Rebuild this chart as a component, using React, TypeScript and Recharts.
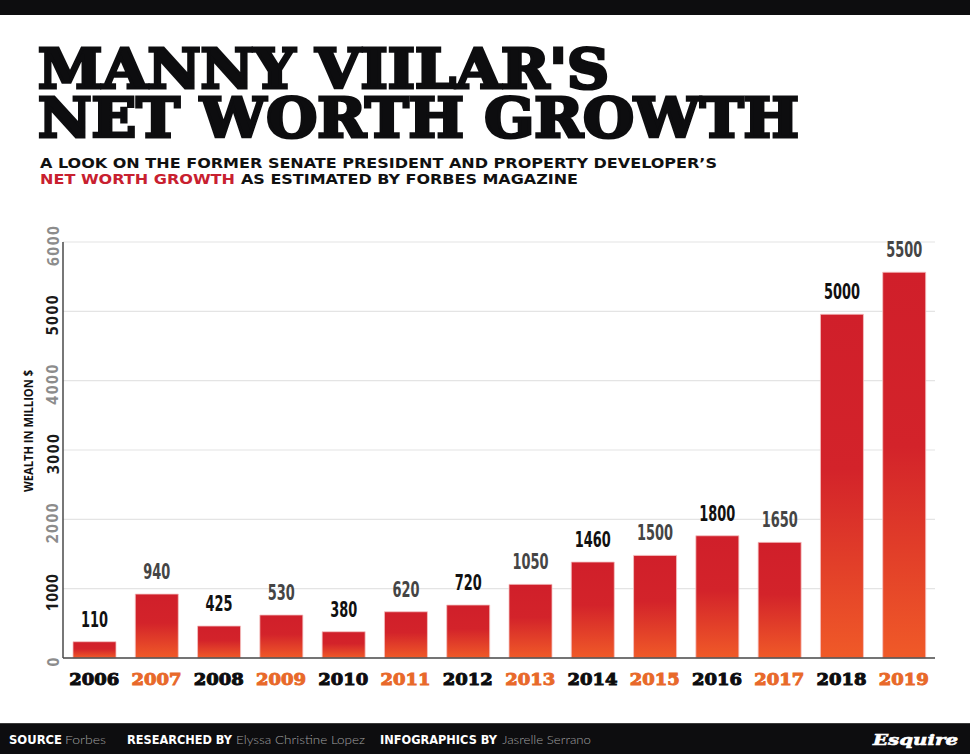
import React from 'react';
import { BarChart, Bar, XAxis, YAxis, CartesianGrid, LabelList } from 'recharts';

const years = ['2006', '2007', '2008', '2009', '2010', '2011', '2012', '2013', '2014', '2015', '2016', '2017', '2018', '2019'];
// bar heights as drawn (million $)
const worth = [235, 922, 461, 620, 379, 667, 764, 1062, 1384, 1480, 1763, 1668, 4958, 5564];
// figures printed above the bars
const printed = ['110', '940', '425', '530', '380', '620', '720', '1050', '1460', '1500', '1800', '1650', '5000', '5500'];
const yTicks = [0, 1000, 2000, 3000, 4000, 5000, 6000];

const data = years.map((year, i) => ({ year, worth: worth[i], printed: printed[i] }));

const INK = '#0d0d0f';
const ORANGE = '#e8692a';
const SLAB = '"DejaVu Serif", serif';
const NARROW = '"DejaVu Sans Condensed", "DejaVu Sans", sans-serif';
const GEO = '"Open Sans", sans-serif';

function YTick(props: any) {
  const { y, payload } = props;
  const v = payload.value;
  const dark = (v / 1000) % 2 === 1;
  const cy = y + 4;
  return (
    <text
      x={52.5} y={cy}
      transform={`rotate(-90 52.5 ${cy})`}
      textAnchor="middle" dominantBaseline="central"
      fontFamily={GEO} fontWeight={700} fontSize={15.5}
      textLength={v === 0 ? undefined : v === 1000 ? 37 : 40} lengthAdjust="spacing"
      fill={dark ? '#1a1a1a' : '#8c8c8c'}
    >
      {v}
    </text>
  );
}

function XTick(props: any) {
  const { x, payload } = props;
  const i = years.indexOf(payload.value);
  const c = i % 2 ? ORANGE : INK;
  return (
    <text
      x={x} y={685} textAnchor="middle"
      fontFamily={SLAB} fontWeight={700} fontSize={17}
      stroke={c} strokeWidth={1} fill={c}
      textLength={50} lengthAdjust="spacingAndGlyphs"
    >
      {payload.value}
    </text>
  );
}

function ValueLabel(props: any) {
  const { x, y, width, value } = props;
  const s = String(value);
  const i = printed.indexOf(s);
  return (
    <text
      x={x + width / 2} y={y - 15} textAnchor="middle"
      fontFamily={NARROW} fontWeight={700} fontSize={21}
      textLength={s.length * 9} lengthAdjust="spacingAndGlyphs"
      fill={i % 2 ? '#454545' : '#111111'}
    >
      {s}
    </text>
  );
}

export default function App() {
  return (
    <div style={{ position: 'absolute', left: 0, top: 0, width: 970, height: 754, background: '#fff', overflow: 'hidden' }}>
      <div style={{ position: 'absolute', left: 0, top: 0, width: 970, height: 15, background: INK }} />

      <div style={{ position: 'absolute', left: 0, top: 0 }}>
        <BarChart width={970} height={754} data={data} margin={{ top: 242, right: 35, bottom: 66, left: 0 }}>
          <defs>
            <linearGradient id="barFill" x1="0" y1="0" x2="0" y2="1">
              <stop offset="0%" stopColor="#d01f2a" />
              <stop offset="45%" stopColor="#d3232a" />
              <stop offset="100%" stopColor="#f05a28" />
            </linearGradient>
          </defs>
          <CartesianGrid vertical={false} stroke="#e4e4e4" strokeWidth={1.2} />
          <XAxis
            dataKey="year" height={30} interval={0}
            axisLine={{ stroke: '#4a4a4a', strokeWidth: 1.5 }} tickLine={false}
            tick={<XTick />}
          />
          <YAxis
            width={63} domain={[0, 6000]} ticks={yTicks} interval={0}
            axisLine={{ stroke: '#4a4a4a', strokeWidth: 1.5 }} tickLine={false}
            tick={<YTick />}
          />
          <Bar dataKey="worth" fill="url(#barFill)" stroke="#f4c3c3" strokeWidth={0.8} barSize={43} isAnimationActive={false}>
            <LabelList dataKey="printed" content={<ValueLabel />} />
          </Bar>
        </BarChart>
      </div>

      <svg width={970} height={754} style={{ position: 'absolute', left: 0, top: 0, pointerEvents: 'none' }}>
        <text x={38} y={88} fontFamily={SLAB} fontWeight={700} fontSize={55} fill={INK} stroke={INK} strokeWidth={3.2}
          textLength={571} lengthAdjust="spacingAndGlyphs">MANNY VIILAR'S</text>
        <text x={38} y={137} fontFamily={SLAB} fontWeight={700} fontSize={55} fill={INK} stroke={INK} strokeWidth={3.2}
          textLength={761} lengthAdjust="spacingAndGlyphs">NET WORTH GROWTH</text>

        <text x={40} y={168} fontFamily={NARROW} fontWeight={700} fontSize={14.5} fill="#111"
          textLength={677} lengthAdjust="spacingAndGlyphs">A LOOK ON THE FORMER SENATE PRESIDENT AND PROPERTY DEVELOPER’S</text>
        <text x={40} y={184} fontFamily={NARROW} fontWeight={700} fontSize={14.5} fill="#c8202f"
          textLength={195} lengthAdjust="spacingAndGlyphs">NET WORTH GROWTH</text>
        <text x={241} y={184} fontFamily={NARROW} fontWeight={700} fontSize={14.5} fill="#111"
          textLength={337} lengthAdjust="spacingAndGlyphs">AS ESTIMATED BY FORBES MAGAZINE</text>

        <text x={28} y={431} transform="rotate(-90 28 431)" textAnchor="middle" dominantBaseline="central"
          fontFamily={GEO} fontWeight={700} fontSize={11.5} fill="#111"
          textLength={122} lengthAdjust="spacingAndGlyphs">WEALTH IN MILLION $</text>

        <rect x={0} y={723} width={970} height={31} fill={INK} />
        <rect x={0} y={723} width={970} height={1} fill="#3a3a3a" />
        <g fontSize={12.5}>
          <text x={9} y={744} fill="#fff" fontFamily={NARROW} fontWeight={700} textLength={53} lengthAdjust="spacingAndGlyphs">SOURCE</text>
          <text x={65} y={744} fill="#a0a0a0" fontFamily="Lato, sans-serif" fontWeight={300} textLength={41} lengthAdjust="spacingAndGlyphs">Forbes</text>
          <text x={127} y={744} fill="#fff" fontFamily={NARROW} fontWeight={700} textLength={105} lengthAdjust="spacingAndGlyphs">RESEARCHED BY</text>
          <text x={236} y={744} fill="#a0a0a0" fontFamily="Lato, sans-serif" fontWeight={300} textLength={129} lengthAdjust="spacingAndGlyphs">Elyssa Christine Lopez</text>
          <text x={380} y={744} fill="#fff" fontFamily={NARROW} fontWeight={700} textLength={117} lengthAdjust="spacingAndGlyphs">INFOGRAPHICS BY</text>
          <text x={502} y={744} fill="#a0a0a0" fontFamily="Lato, sans-serif" fontWeight={300} textLength={89} lengthAdjust="spacingAndGlyphs">Jasrelle Serrano</text>
        </g>
        <text x={873} y={745} fontFamily={SLAB} fontStyle="italic" fontWeight={700} fontSize={15} fill="#fff"
          stroke="#fff" strokeWidth={0.6} textLength={85} lengthAdjust="spacingAndGlyphs">Esquire</text>
      </svg>
    </div>
  );
}
